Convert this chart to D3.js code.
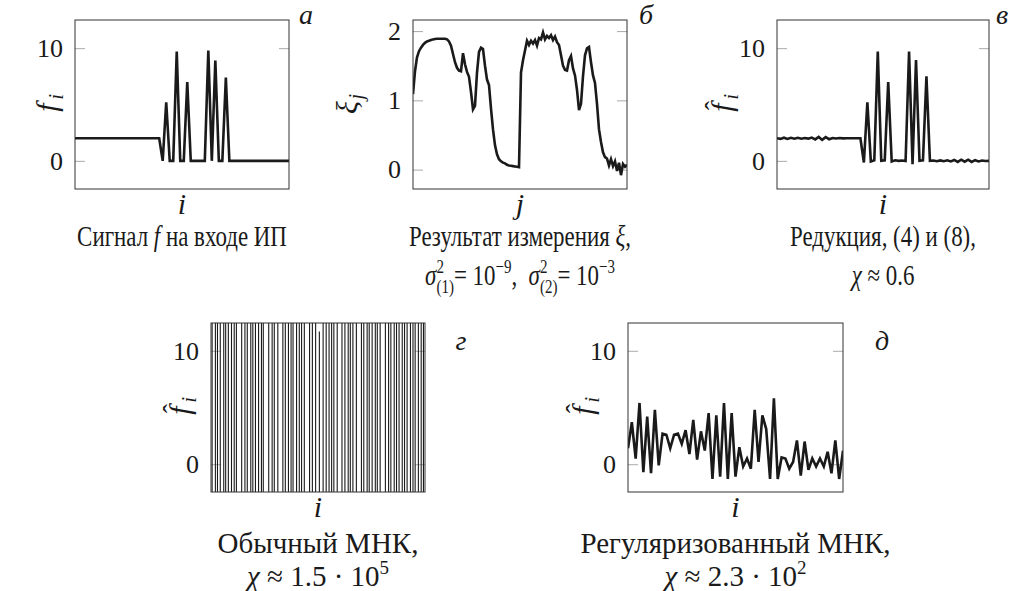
<!DOCTYPE html>
<html>
<head>
<meta charset="utf-8">
<script src="https://cdn.jsdelivr.net/npm/d3@7"></script>
</head>
<body style="margin:0">
<script>
// signal f (panel a)
const sigA = [
  2, 2, 2, 2, 2, 2, 2, 2, 2, 2, 2, 2, 2, 2, 2, 2, 2, 2, 2, 2, 2, 2, 2, 2, 2,
  0, 5.2, 0, 0, 9.7, 0, 0, 7.0, 0, 0, 0, 0, 0, 9.8, 0, 8.9, 0, 0, 7.4,
  0, 0, 0, 0, 0, 0, 0, 0, 0, 0, 0, 0, 0, 0, 0, 0, 0, 0
];

// measurement xi (panel б)
const measB = [
  1.09, 1.42, 1.62, 1.71, 1.76, 1.80, 1.83, 1.85, 1.86, 1.87, 1.88, 1.885, 1.89, 1.89, 1.89, 1.89,
  1.89, 1.88, 1.85, 1.79, 1.67, 1.55, 1.47, 1.43, 1.42, 1.68, 1.52, 1.41, 1.34, 1.12, 0.87, 0.92,
  1.40, 1.70, 1.76, 1.74, 1.50, 1.30, 1.22, 0.88, 0.58, 0.35, 0.22, 0.15, 0.12, 0.10, 0.09, 0.07,
  0.06, 0.055, 0.05, 0.045, 0.04, 0.035, 1.40, 1.58, 1.72, 1.86, 1.80, 1.86, 1.82, 1.87, 1.79, 1.90,
  1.88, 1.98, 1.88, 1.93, 1.90, 1.94, 1.87, 1.92, 1.84, 1.80, 1.65, 1.50, 1.44, 1.43, 1.58, 1.64,
  1.46, 1.36, 1.15, 0.86, 0.95, 1.35, 1.65, 1.75, 1.77, 1.55, 1.36, 1.25, 0.95, 0.58, 0.40, 0.25,
  0.18, 0.16, 0.06, 0.15, 0.05, 0.12, -0.02, 0.10, -0.08, 0.08, 0.04, 0.07
];

// reduction estimate (panel в)
const redV = [
  2.0, 1.95, 2.05, 1.95, 2.05, 1.96, 2.04, 1.96, 2.03, 1.97, 2.06, 1.9, 2.12, 1.86, 2.1, 1.92,
  2.03, 1.98, 2.02, 1.99, 2.01, 2.0, 2.0, 2.0, 2.0, -0.15, 5.2, -0.05, 0.05, 9.7, 0.0, 0.05,
  7.0, -0.05, 0.05, 0.0, 0.03, -0.02, 9.7, -0.3, 8.95, 0.0, 0.05, 7.5, 0.0, 0.03, -0.04, 0.04,
  -0.03, 0.05, -0.05, 0.08, -0.1, 0.1, -0.08, 0.1, -0.1, 0.06, -0.05, 0.03, -0.02, 0.0
];

// ordinary least squares (panel г)
const olsG = [
  5.1e4, -7.3e4, 4.4e4, -6.8e4, 9.2e4, -3.9e4, 5.5e4, -8.1e4, 6.2e4, -4.7e4,
  7.9e4, 3.1e4, -6.4e4, 5.8e4, -9.0e4, 4.1e4, -5.3e4, 7.7e4, -6.0e4, 3.6e4,
  -8.4e4, -2.9e4, 6.6e4, -5.0e4, 8.8e4, -4.3e4, -6.1e4, 5.4e4, -7.0e4, 4.9e4,
  -3.8e4, 9.5e4, -6.7e4, 4.6e4, -5.9e4, 7.2e4, 4.0e4, -6.3e4, 8.6e4, -5.2e4,
  11.7, -4.8e4, 7.4e4, -6.9e4, 5.0e4, -4.4e4, 8.1e4, -5.6e4, -3.3e4, 6.0e4,
  -7.8e4, 4.2e4, -5.7e4, 9.1e4, -4.6e4, -6.2e4, 5.3e4, -8.0e4, 4.5e4, -6.6e4,
  7.0e4, -3.7e4, 5.9e4, -7.5e4, -4.1e4, 6.8e4, -5.4e4, 8.3e4, -4.9e4, 5.2e4,
  -7.1e4, 4.8e4, -6.0e4, 9.3e4, -5.5e4, 4.3e4, -7.6e4, 6.1e4, -4.2e4, 5.6e4
];

// regularized least squares (panel д)
const regD = [
  1.4, 3.7, 0.5, 5.4, -0.7, 4.2, -0.8, 4.8, -0.1, 2.7, 2.6, 1.4, 2.6, 2.7, 1.8, 3.0,
  0.9, 3.9, 0.4, 2.9, 1.2, 4.5, -1.3, 4.3, -1.1, 5.4, -1.3, 4.5, -1.1, 1.5, -0.2, 0.5,
  -0.4, 4.8, 0.2, 4.3, 3.1, -1.3, 5.8, -1.3, 0.6, 0.5, -0.4, 0.2, 2.1, -1.0, 2.0, -0.5,
  0.5, -0.2, 0.5, -0.2, 1.1, -0.8, 2.1, -1.3, 1.2
];

const ticksF = [0, 10];
const ticksXi = [0, 1, 2];

const capA = [[["Сигнал ", ""], ["f", "it"], [" на входе ИП", ""]]];
const capB = [
  [["Результат измерения ", ""], ["ξ", "it"], [",", ""]],
  [["σ", "it"], [["2", "(1)"], "ss"], ["= 10", ""], ["−9", "sup"], [",  ", ""],
   ["σ", "it"], [["2", "(2)"], "ss"], ["= 10", ""], ["−3", "sup"]]
];
const capV = [[["Редукция, (4) и (8),", ""]], [["χ", "it"], [" ≈ 0.6", ""]]];
const capG = [[["Обычный МНК,", ""]], [["χ", "it"], [" ≈ 1.5 · 10", ""], ["5", "sup"]]];
const capD = [[["Регуляризованный МНК,", ""]], [["χ", "it"], [" ≈ 2.3 · 10", ""], ["2", "sup"]]];

const FONT = '"Liberation Serif", "Times New Roman", FreeSerif, serif';
const ink = "#1a1a1a";

let svg = d3.select("body").append("svg")
  .attr("width", 1012).attr("height", 591)
  .style("font-family", FONT);

let txt = (parent, s, size, italic) =>
  parent.append("text")
    .attr("font-size", size)
    .attr("font-style", italic ? "italic" : "normal")
    .attr("fill", ink)
    .style("font-family", FONT)
    .text(s);

let caption = (cx, cy, sx, segs) => {
  let t = svg.append("text")
    .attr("transform", `translate(${cx},${cy}) scale(${sx},1)`)
    .attr("text-anchor", "middle")
    .attr("font-size", 29)
    .attr("fill", ink)
    .style("font-family", FONT)
    .style("white-space", "pre");
  let shift = 0;
  let put = (s, size, target, style, dx) => {
    let ts = t.append("tspan").attr("dy", target - shift).text(s);
    if (size) ts.attr("font-size", size);
    if (style) ts.attr("font-style", style);
    if (dx) ts.attr("dx", dx);
    shift = target;
    return ts;
  };
  segs.forEach(([s, st]) => {
    if (st === "it") put(s, null, 0, "italic");
    else if (st === "sup") put(s, 19, -12);
    else if (st === "ss") {
      put(s[0], 19, -12);
      put(s[1], 19, 8, null, -9.5);
    } else put(s, null, 0);
  });
};

let panel = p => {
  let x = d3.scaleLinear().domain([0, p.data.length - 1]).range([p.x0, p.x1]);
  let y = d3.scaleLinear().domain(p.ydom).range([p.y1, p.y0]);
  let g = svg.append("g");

  g.append("clipPath").attr("id", "clip-" + p.id)
    .append("rect")
    .attr("x", p.x0).attr("y", p.y0)
    .attr("width", p.x1 - p.x0).attr("height", p.y1 - p.y0);

  // inner ticks on both sides
  g.append("g").attr("transform", `translate(${p.x0},0)`)
    .call(d3.axisRight(y).tickValues(p.ticks).tickSize(10).tickFormat(""))
    .call(a => a.select(".domain").remove())
    .call(a => a.selectAll("line").attr("stroke", "#aaa"));
  g.append("g").attr("transform", `translate(${p.x1},0)`)
    .call(d3.axisLeft(y).tickValues(p.ticks).tickSize(10).tickFormat(""))
    .call(a => a.select(".domain").remove())
    .call(a => a.selectAll("line").attr("stroke", "#aaa"));

  // tick labels
  g.append("g").attr("transform", `translate(${p.x0},0)`)
    .call(d3.axisLeft(y).tickValues(p.ticks).tickSize(0).tickPadding(12).tickFormat(d3.format("d")))
    .attr("font-size", 26)
    .style("font-family", FONT)
    .call(a => a.select(".domain").remove())
    .call(a => a.selectAll("text").style("font-family", FONT).attr("fill", ink));

  g.append("path")
    .datum(p.data)
    .attr("clip-path", `url(#clip-${p.id})`)
    .attr("fill", "none")
    .attr("stroke", ink)
    .attr("stroke-width", p.sw || 2.6)
    .attr("d", d3.line().x((d, i) => x(i)).y(d => y(d)));

  g.append("rect")
    .attr("x", p.x0).attr("y", p.y0)
    .attr("width", p.x1 - p.x0).attr("height", p.y1 - p.y0)
    .attr("fill", "none").attr("stroke", "#333").attr("stroke-width", 1);

  // y label, rotated
  let yl = g.append("g")
    .attr("transform", `translate(${p.lx},${(p.y0 + p.y1) / 2}) rotate(-90)`);
  txt(yl, p.ysym, 30, true).attr("x", -3).attr("y", 10).attr("text-anchor", "middle");
  txt(yl, p.ysub, 20, true).attr("x", 5).attr("y", 16);
  if (p.hat) txt(yl, "ˆ", 28, false).attr("x", -1).attr("y", 2).attr("text-anchor", "middle");

  // x label
  txt(g, p.xsym, 30, true)
    .attr("x", (p.x0 + p.x1) / 2).attr("y", p.y1 + 25)
    .attr("text-anchor", "middle");

  txt(g, p.letter, 28, true)
    .attr("x", p.lt[0]).attr("y", p.lt[1])
    .attr("text-anchor", "middle");

  p.cap.forEach((c, k) => caption((p.x0 + p.x1) / 2, p.cy[k], p.sx, c));
};

let draw = () => {
  svg.selectAll("*").remove();
  panel({ id: "a", data: sigA, x0: 75, x1: 289, y0: 20, y1: 189, ydom: [-2.5, 12.5], ticks: ticksF,
    lx: 47, ysym: "f", ysub: "i", xsym: "i", letter: "а", lt: [306, 24], cap: capA, cy: [246], sx: 0.79 });
  panel({ id: "b", data: measB, x0: 413, x1: 627, y0: 20, y1: 189, ydom: [-0.28, 2.16], ticks: ticksXi,
    lx: 347, ysym: "ξ", ysub: "j", xsym: "j", letter: "б", lt: [646, 24], cap: capB, cy: [246, 285], sx: 0.79 });
  panel({ id: "v", data: redV, x0: 777, x1: 989, y0: 20, y1: 189, ydom: [-2.5, 12.5], ticks: ticksF,
    lx: 722, ysym: "f", ysub: "i", hat: true, xsym: "i", letter: "в", lt: [1002, 24], cap: capV, cy: [246, 285], sx: 0.79 });
  panel({ id: "g", data: olsG, x0: 211, x1: 425, y0: 323, y1: 492, ydom: [-2.45, 12.45], ticks: ticksF,
    lx: 180, ysym: "f", ysub: "i", hat: true, xsym: "i", letter: "г", lt: [461, 350], cap: capG, cy: [553, 586], sx: 1, sw: 1.1 });
  panel({ id: "d", data: regD, x0: 628, x1: 843, y0: 323, y1: 492, ydom: [-2.45, 12.45], ticks: ticksF,
    lx: 583, ysym: "f", ysub: "i", hat: true, xsym: "i", letter: "д", lt: [882, 350], cap: capD, cy: [553, 586], sx: 1 });
};

draw();
// fonts may arrive late: ask for them and redraw once they are in
if (document.fonts && document.fonts.load) {
  Promise.all([
    document.fonts.load('29px "Liberation Serif"', "Сигнал 10"),
    document.fonts.load('italic 29px "Liberation Serif"', "fi")
  ]).then(draw, () => {});
}
</script>
</body>
</html>
